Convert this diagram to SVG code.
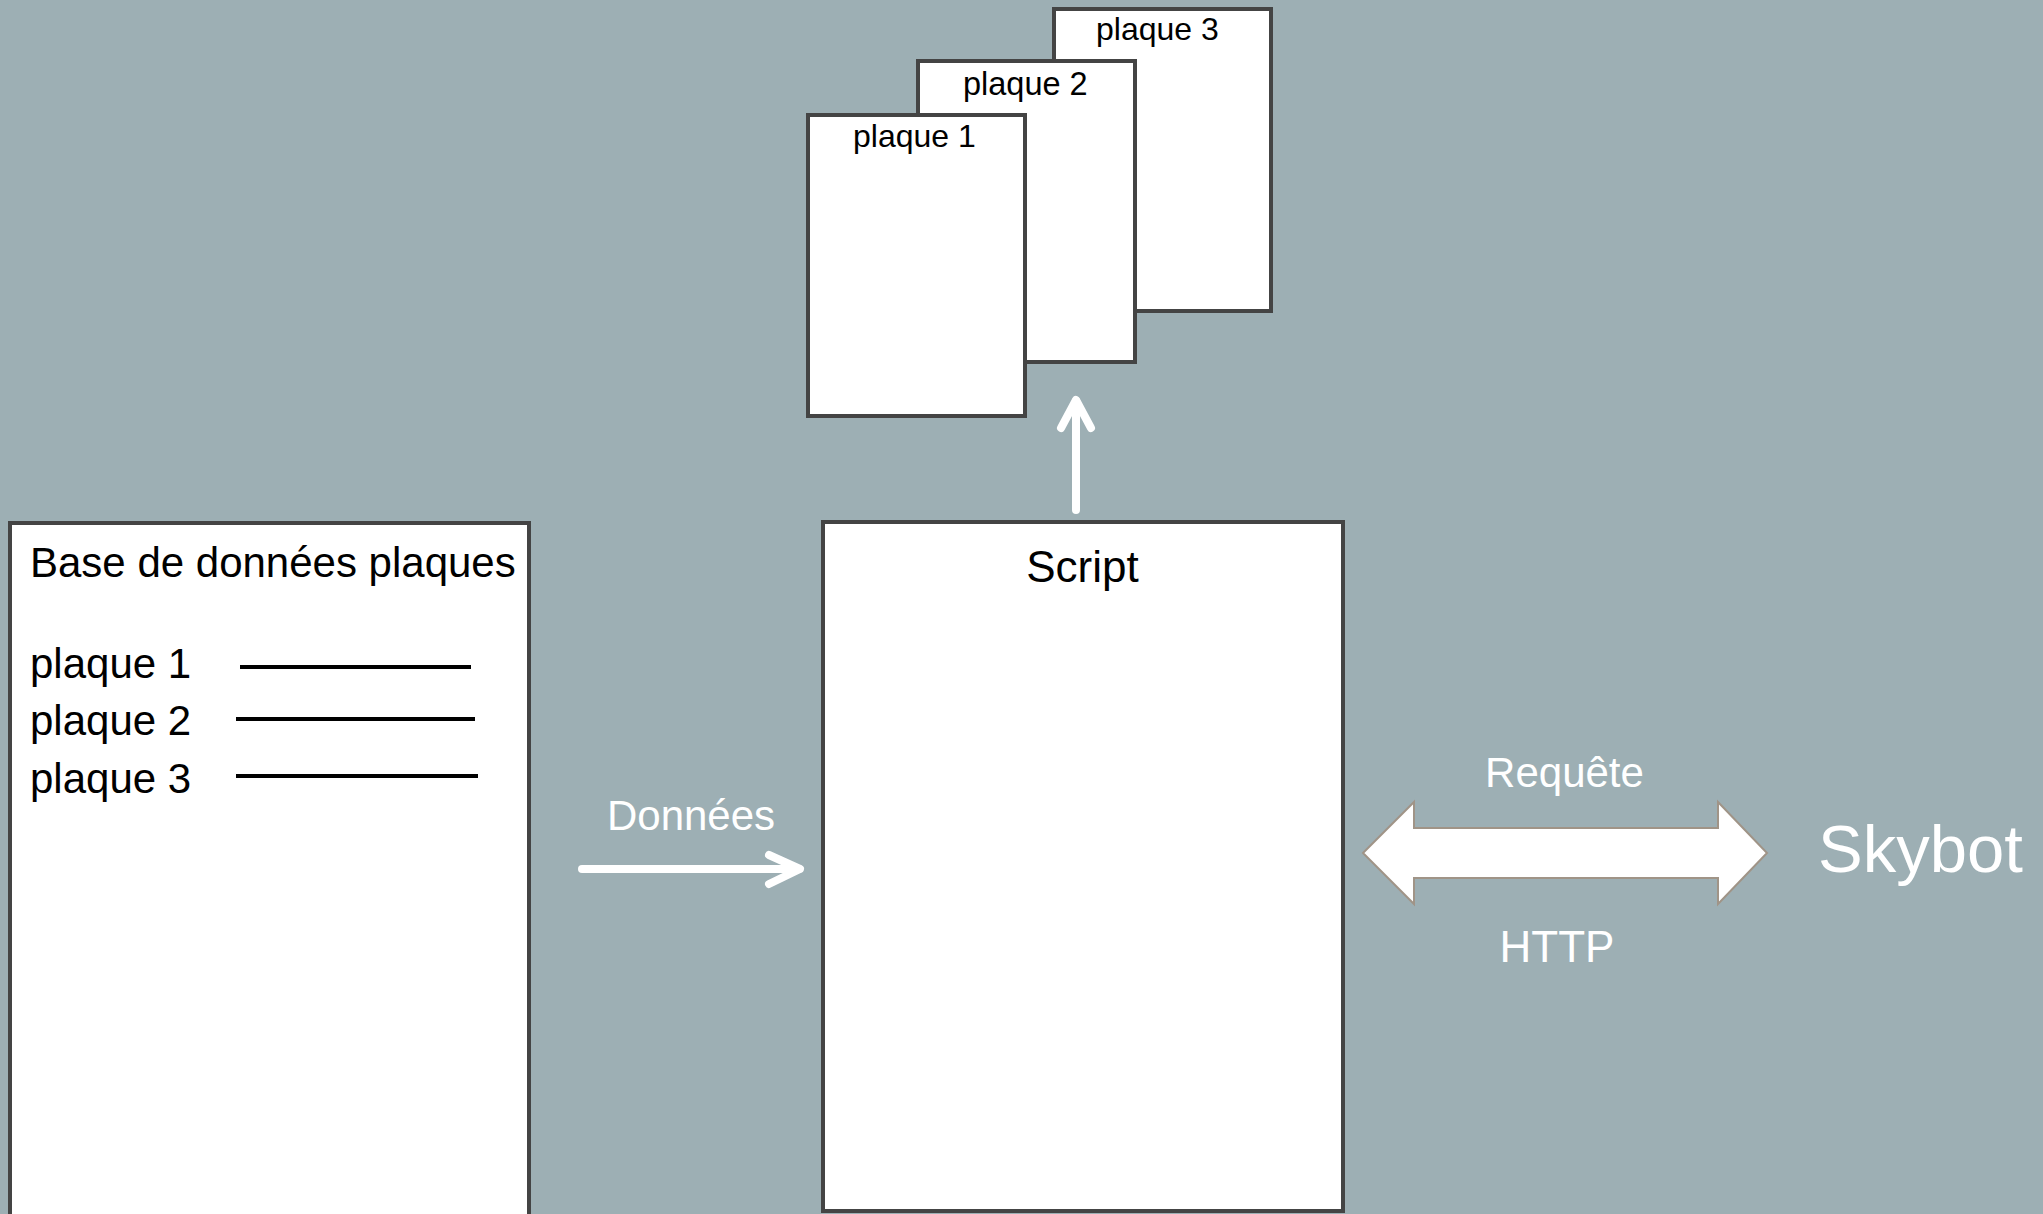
<svg xmlns="http://www.w3.org/2000/svg" width="2043" height="1214" viewBox="0 0 2043 1214">
  <defs>
    <style>
      .box { fill: #ffffff; stroke: #444444; stroke-width: 4; }
      .t { font-family: "Liberation Sans", Arial, sans-serif; fill: #000000; }
      .w { font-family: "Liberation Sans", Arial, sans-serif; fill: #ffffff; }
      .conn { stroke: #ffffff; stroke-width: 8; fill: none; stroke-linecap: round; stroke-linejoin: round; }
      .rule { stroke: #000000; stroke-width: 4; }
    </style>
  </defs>
  <rect x="0" y="0" width="2043" height="1214" fill="#9dafb4"/>

  <g id="plaque3">
    <rect class="box" x="1054" y="9" width="217" height="302"/>
    <text class="t" x="1096" y="40" font-size="32">plaque 3</text>
  </g>
  <g id="plaque2">
    <rect class="box" x="918" y="61" width="217" height="301"/>
    <text class="t" x="963" y="95" font-size="32.5">plaque 2</text>
  </g>
  <g id="plaque1">
    <rect class="box" x="808" y="115" width="217" height="301"/>
    <text class="t" x="853" y="147" font-size="32">plaque 1</text>
  </g>

  <g id="base">
    <rect class="box" x="10" y="523" width="519" height="800"/>
    <text class="t" x="30" y="577" font-size="42">Base de données plaques</text>
    <text class="t" x="30" y="678" font-size="42">plaque 1</text>
    <text class="t" x="30" y="735" font-size="42">plaque 2</text>
    <text class="t" x="30" y="793" font-size="42">plaque 3</text>
    <line class="rule" x1="240" y1="667" x2="471" y2="667"/>
    <line class="rule" x1="236" y1="719" x2="475" y2="719"/>
    <line class="rule" x1="236" y1="776" x2="478" y2="776"/>
  </g>

  <g id="script">
    <rect class="box" x="823" y="522" width="520" height="689"/>
    <text class="t" x="1082.5" y="582" font-size="44" text-anchor="middle">Script</text>
  </g>

  <g id="skybot">
    <text class="w" x="1818" y="872" font-size="67">Skybot</text>
  </g>

  <g id="connectors">
    <line class="conn" x1="582" y1="869" x2="799" y2="869"/>
    <polyline class="conn" points="769,855 800,869 769,884"/>
    <text class="w" x="691" y="830" font-size="42" text-anchor="middle">Données</text>

    <line class="conn" x1="1076" y1="510" x2="1076" y2="401"/>
    <polyline class="conn" points="1061,428 1076,400 1091,428"/>

    <polygon points="1363,853 1414,802 1414,828 1718,828 1718,802 1767,853 1718,904 1718,878 1414,878 1414,904" fill="#ffffff" stroke="#a09487" stroke-width="2"/>
    <text class="w" x="1564.5" y="787" font-size="42" text-anchor="middle">Requête</text>
    <text class="w" x="1557" y="962" font-size="44" text-anchor="middle">HTTP</text>
  </g>
</svg>
